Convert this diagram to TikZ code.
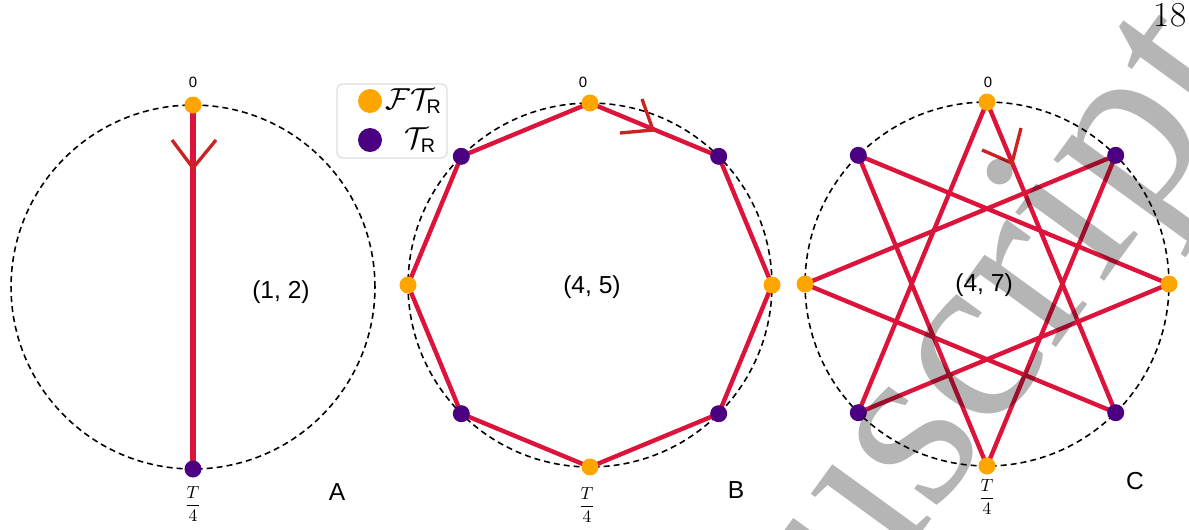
\documentclass[tikz,border=0pt]{standalone}
\usepackage{amsmath}
\usepackage{fontspec}
\newfontfamily\labelfont{Liberation Sans}
\newfontfamily\markfont{Liberation Serif}
\usepackage{tikz}
\usetikzlibrary{calc}

\definecolor{chordred}{RGB}{220,20,60}
\definecolor{tipred}{RGB}{204,34,34}
\definecolor{fdotorange}{RGB}{255,165,0}
\definecolor{tdotpurple}{RGB}{75,0,130}

\begin{document}
\begin{tikzpicture}[
    x=0.02cm, y=-0.02cm,
    ring/.style={draw, dash pattern=on 3.4pt off 2.3pt, line width=0.9pt},
    chord/.style={draw=chordred, line width=2.5pt, line join=round},
    vee/.style={draw=tipred, line width=1.9pt},
    fdot/.style={circle, fill=fdotorange, inner sep=0pt, minimum size=0.34cm},
    tdot/.style={circle, fill=tdotpurple, inner sep=0pt, minimum size=0.34cm},
    zero/.style={font=\labelfont\fontsize{8.5}{9}\selectfont},
    quarter/.style={font=\fontsize{10}{11}\selectfont},
    pairlbl/.style={font=\labelfont\fontsize{14}{16}\selectfont},
    legendbox/.style={draw=gray!25, line width=0.8pt, rounded corners=3pt, fill=white}
]
\useasboundingbox (0,0) rectangle (1189,529);

% panel A: (1, 2)
\coordinate (cA) at (193,287);
\draw[ring] (cA) circle[radius=3.64cm];
\coordinate (a0) at (193,105);
\coordinate (a1) at (193,469);
\draw[chord, line width=2.9pt] (a0) -- (a1);
\coordinate (tipA) at (193,168);
\draw[vee] (tipA) ++(-21,-28) -- (tipA) -- ++(23,-28);
\node[fdot] (fa0) at (a0) {};
\node[tdot] (ta1) at (a1) {};
\node[zero] (zA) at (193,82) {0};
\node[quarter] (qA) at (193,504) {$\dfrac{T}{4}$};
\node[pairlbl] (pA) at (281,292) {(1, 2)};
\node[pairlbl] (lA) at (337,492) {A};

% panel B: (4, 5)
\coordinate (cB) at (590,285);
\draw[ring] (cB) circle[radius=3.64cm];
\foreach \k in {0,...,7}
    \coordinate (b\k) at ($(cB)+(-90+45*\k:182)$);
\draw[chord] (b0) -- (b1) -- (b2) -- (b3) -- (b4) -- (b5) -- (b6) -- (b7) -- cycle;
\coordinate (tipB) at (653,130);
\draw[vee] (tipB) ++(-11,-31) -- (tipB) -- ++(-33,3);
\foreach \k in {0,2,4,6}
    \node[fdot] (fb\k) at (b\k) {};
\foreach \k in {1,3,5,7}
    \node[tdot] (tb\k) at (b\k) {};
\node[zero] (zB) at (583,82) {0};
\node[quarter] (qB) at (587,505) {$\dfrac{T}{4}$};
\node[pairlbl] (pB) at (592,287) {(4, 5)};
\node[pairlbl] (lB) at (736,490) {B};

% panel C: (4, 7)
\coordinate (cC) at (987,284);
\draw[ring] (cC) circle[radius=3.64cm];
\foreach \k in {0,...,7}
    \coordinate (c\k) at ($(cC)+(-90+45*\k:182)$);
\draw[chord] (c0) -- (c3) -- (c6) -- (c1) -- (c4) -- (c7) -- (c2) -- (c5) -- cycle;
\coordinate (tipC) at (1012,163);
\draw[vee] (tipC) ++(9,-35) -- (tipC) -- ++(-30,-13);
\foreach \k in {0,2,4,6}
    \node[fdot] (fc\k) at (c\k) {};
\foreach \k in {1,3,5,7}
    \node[tdot] (tc\k) at (c\k) {};
\node[zero] (zC) at (988,82) {0};
\node[quarter] (qC) at (987,497) {$\dfrac{T}{4}$};
\node[pairlbl] (pC) at (984,285) {(4, 7)};
\node[pairlbl] (lC) at (1135,481) {C};

% legend
\node[legendbox, minimum width=2.2cm, minimum height=1.48cm] (legend) at (392,121) {};
\node[fdot, minimum size=0.48cm] (keyF) at (370,101) {};
\node[tdot, minimum size=0.48cm] (keyT) at (370,140) {};
\node[anchor=west, inner sep=0pt, font=\fontsize{16}{17}\selectfont] (keyFtext) at (385,101) {$\mathcal{F}\mathcal{T}_{\text{\labelfont R}}$};
\node[anchor=west, inner sep=0pt, font=\fontsize{16}{17}\selectfont] (keyTtext) at (404,140) {$\mathcal{T}_{\text{\labelfont R}}$};

% page number and watermark
\node[font=\fontsize{20}{22}\selectfont] (pageno) at (1170,15) {18};
\node[font=\markfont\fontsize{139}{139}\selectfont, text=black, opacity=0.29,
      rotate=54, anchor=base west, inner sep=0pt] (mark) at (862,615) {uscript};
\end{tikzpicture}
\end{document}
